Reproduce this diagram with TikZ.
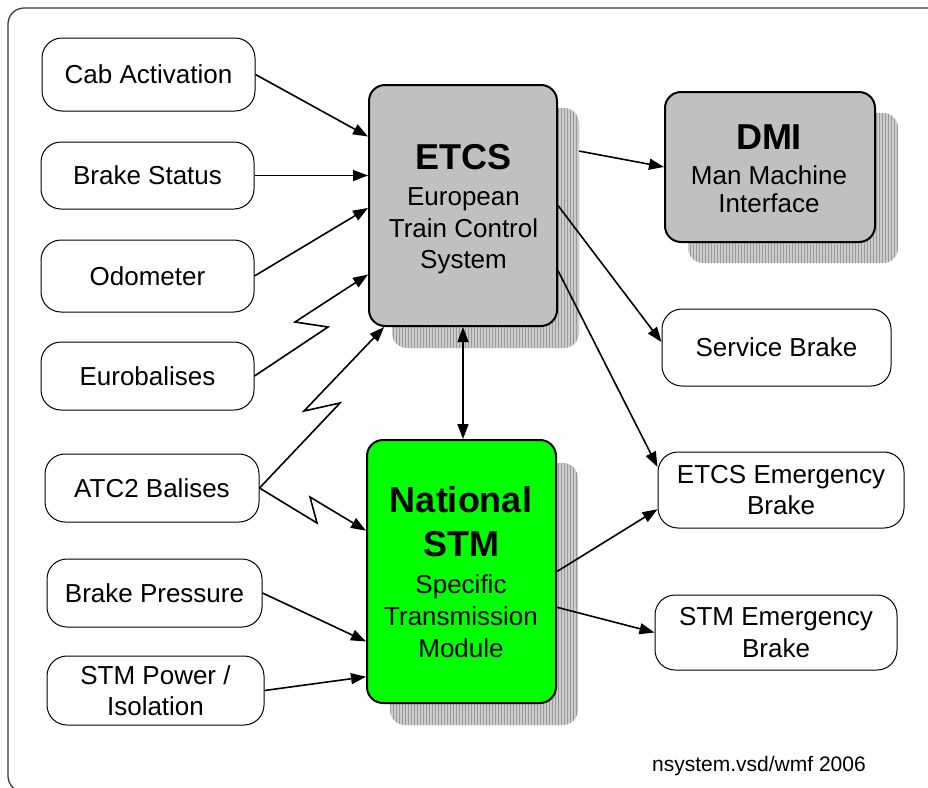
\documentclass[tikz,border=0pt]{standalone}
\usepackage{fontspec}
\setmainfont{Liberation Sans}
\usetikzlibrary{arrows.meta,calc,patterns}
\definecolor{etcsgray}{RGB}{192,192,192}
\definecolor{shadegray}{RGB}{204,204,204}
\definecolor{stmgreen}{RGB}{0,255,0}
\tikzset{
  wbox/.style={draw=black, line width=1pt, rounded corners=20pt, fill=white, inner sep=0pt, align=center, font=\fontsize{26}{31.5}\selectfont},
  bigbox/.style={draw=black, line width=2pt, rounded corners=16pt, inner sep=0pt},
  shadowbox/.style={rounded corners=15pt, inner sep=0pt, fill=shadegray, postaction={pattern=vertical lines, pattern color=black!40}},
  boxtext/.style={inner sep=0pt, align=center},
  conn/.style={line width=1.6pt, -{Triangle[length=15pt,width=11pt]}},
  zig/.style={conn, line join=miter},
  frame/.style={draw=black!80, line width=1.2pt, rounded corners=16pt},
  note/.style={font=\fontsize{21}{25}\selectfont, inner sep=0pt}
}
\begin{document}
\begin{tikzpicture}[x=1pt, y=-1pt]
\useasboundingbox (0,0) rectangle (928,787);
\draw[frame] (8,8) rectangle (965,792);

% shadows
\node[shadowbox, minimum width=187pt, minimum height=240pt] (etcsS) at (485.5,228) {};
\node[shadowbox, minimum width=210pt, minimum height=150pt] (dmiS) at (793,188) {};
\node[shadowbox, minimum width=188pt, minimum height=262pt] (stmS) at (484,594) {};

% main boxes
\node[bigbox, fill=etcsgray, minimum width=188pt, minimum height=241pt] (etcs) at (463,205.5) {};
\node[bigbox, fill=etcsgray, minimum width=210pt, minimum height=150pt] (dmi) at (770,167) {};
\node[bigbox, fill=stmgreen, minimum width=189pt, minimum height=263pt] (stm) at (461.5,571.5) {};

\node[boxtext, font=\fontsize{26}{31.5}\selectfont] (etcsT) at (463.5,209.4)
  {{\fontsize{36}{36}\selectfont\bfseries ETCS}\\[4.5pt]European\\Train Control\\System};
\node[boxtext, font=\fontsize{26}{28.5}\selectfont] (dmiT) at (769,168.8)
  {{\fontsize{36}{36}\selectfont\bfseries DMI}\\[6.8pt]Man Machine\\Interface};
\node[boxtext, font=\fontsize{26}{32}\selectfont] (stmT) at (461,572.2)
  {{\fontsize{36}{36}\selectfont\bfseries National}\\[11.6pt]{\fontsize{36}{36}\selectfont\bfseries STM}\\[5.1pt]Specific\\Transmission\\Module};

% input boxes
\node[wbox, minimum width=213pt, minimum height=73pt] (cab) at (148.5,74.5) {Cab Activation};
\node[wbox, minimum width=213pt, minimum height=67pt] (bs) at (147.5,175.5) {Brake Status};
\node[wbox, minimum width=213pt, minimum height=72pt] (odo) at (147.5,276) {Odometer};
\node[wbox, minimum width=213pt, minimum height=68pt] (euro) at (147.5,376) {Eurobalises};
\node[wbox, minimum width=214pt, minimum height=68pt] (atc) at (152,488) {ATC2 Balises};
\node[wbox, minimum width=215pt, minimum height=68pt] (bp) at (154.5,593) {Brake Pressure};
\node[wbox, minimum width=217pt, minimum height=69pt] (pwr) at (155.5,690.5) {STM Power /\\Isolation};

% output boxes
\node[wbox, minimum width=229pt, minimum height=77pt] (sb) at (776.5,347.5) {Service Brake};
\node[wbox, minimum width=246pt, minimum height=76pt] (eeb) at (781,490) {ETCS Emergency\\Brake};
\node[wbox, minimum width=242pt, minimum height=75pt] (seb) at (776,632.5) {STM Emergency\\Brake};

\node[note, anchor=base west] (foot) at (652,771.5) {nsystem.vsd/wmf 2006};

% zigzag points
\coordinate (z1) at (328,327);
\coordinate (z2) at (295,322);
\coordinate (z3) at (340,403);
\coordinate (z4) at (304,411);
\coordinate (z5) at (317,523);
\coordinate (z6) at (310,497);

% connectors
\draw[conn] (cab.east) -- ($(etcs.north west)!0.216!(etcs.south west)$);
\draw[conn] (bs.east) -- (bs.east -| etcs.west);
\draw[conn] (odo.east) -- ($(etcs.north west)!0.51!(etcs.south west)$);
\draw[zig] (euro.east) -- (z1) -- (z2) -- ($(etcs.north west)!0.784!(etcs.south west)$);
\draw[zig] (atc.east) -- (z3) -- (z4) -- ($(etcs.south west)!0.085!(etcs.south east)$);
\draw[zig] (atc.east) -- (z5) -- (z6) -- ($(stm.north west)!0.346!(stm.south west)$);
\draw[conn] (bp.east) -- ($(stm.north west)!0.764!(stm.south west)$);
\draw[conn] (pwr.east) -- ($(stm.north west)!0.897!(stm.south west)$);
\draw[line width=1.6pt, {Triangle[length=15pt,width=11pt]}-{Triangle[length=15pt,width=11pt]}] (etcs.south) -- (etcs.south |- stm.north);
\draw[conn] ($(etcsS.north east)!0.18!(etcsS.south east)$) -- (dmi.west);
\draw[conn] (etcs.east) -- ($(sb.north west)!0.43!(sb.south west)$);
\draw[conn] ($(etcs.north east)!0.768!(etcs.south east)$) -- ($(eeb.north west)!0.2!(eeb.south west)$);
\draw[conn] (stm.east) -- ($(eeb.north west)!0.75!(eeb.south west)$);
\draw[conn] ($(stm.north east)!0.635!(stm.south east)$) -- (seb.west);
\end{tikzpicture}
\end{document}
